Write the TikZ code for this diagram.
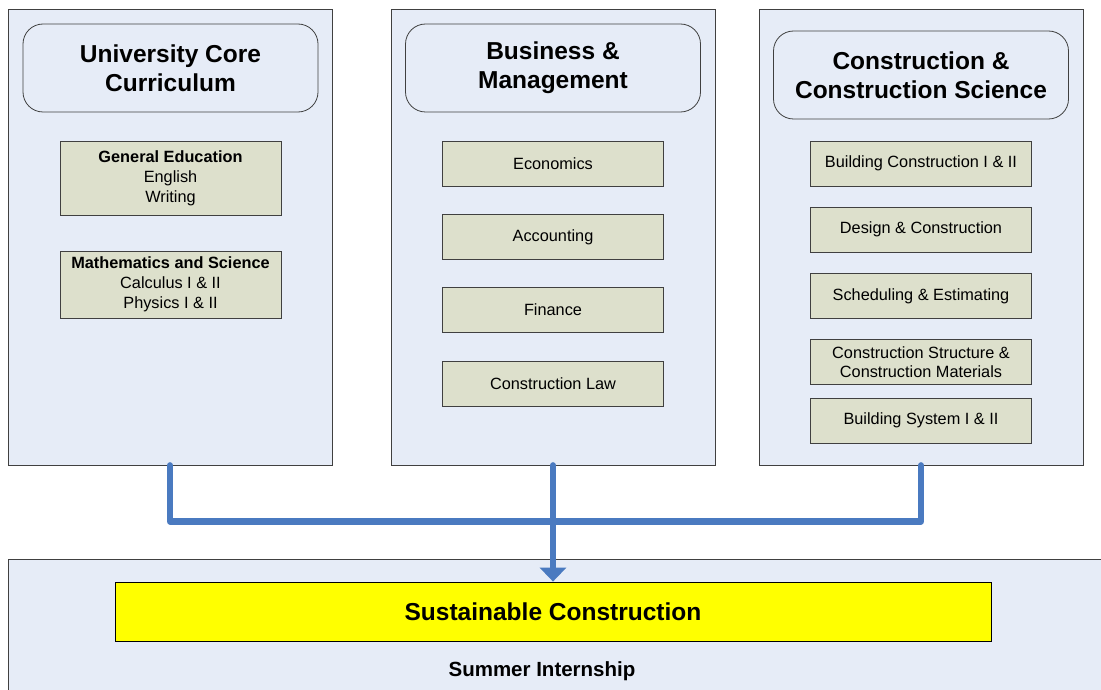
\documentclass[tikz,border=0pt]{standalone}
\usepackage{fontspec}
\setmainfont{Liberation Sans}
\usetikzlibrary{arrows.meta}
\definecolor{panelfill}{HTML}{E6ECF7}
\definecolor{itemfill}{HTML}{DDE0CC}
\definecolor{linkblue}{HTML}{4A7AC0}
\definecolor{edgegray}{HTML}{404040}
\definecolor{focusyellow}{HTML}{FFFF00}
\tikzset{
  panel/.style={draw=edgegray, line width=0.8pt, fill=panelfill, inner sep=0pt},
  headbox/.style={draw=edgegray, line width=0.8pt, rounded corners=20pt, fill=panelfill,
    minimum width=295pt, minimum height=88pt, align=center, font=\bfseries\fontsize{24.5}{29}\selectfont},
  itembox/.style={draw=edgegray, line width=0.8pt, fill=itemfill, align=center, inner sep=2pt,
    minimum width=221pt, font=\fontsize{16.3}{20}\selectfont},
  link/.style={draw=linkblue, line width=6.5pt, line cap=round, line join=round},
}
\begin{document}
\begin{tikzpicture}[x=1pt,y=-1pt]
\useasboundingbox (0,0) rectangle (1101,690);
\clip (0,0) rectangle (1101,690);

% three course columns
\node[panel, minimum width=324pt, minimum height=456pt] (core) at (170,237) {};
\node[panel, minimum width=324pt, minimum height=456pt] (bus) at (553,237) {};
\node[panel, minimum width=324pt, minimum height=456pt] (con) at (921,237) {};

% internship band along the bottom
\node[panel, minimum width=1120pt, minimum height=150pt, anchor=north west] (intern) at (8,559) {};

% column headings
\node[headbox] (coreh) at (170.5,68) {University Core\\Curriculum};
\node[headbox] (bush) at (553,68) {Business \&\\Management};
\node[headbox] (conh) at (921,75) {Construction \&\\Construction Science};

% university core items
\node[itembox, minimum height=74pt] (gened) at (170.5,178) {\textbf{General Education}\\English\\Writing};
\node[itembox, minimum height=67pt] (math) at (170.5,284.5) {\textbf{Mathematics and Science}\\Calculus I \& II\\Physics I \& II};

% business items
\node[itembox, minimum height=45pt] (econ) at (553,163.5) {Economics};
\node[itembox, minimum height=45pt] (acct) at (553,237) {Accounting};
\node[itembox, minimum height=45pt] (fin) at (553,310) {Finance};
\node[itembox, minimum height=45pt] (law) at (553,383.5) {Construction Law};

% construction items
\node[itembox, minimum height=45pt] (bc) at (921,163.5) {Building Construction I \& II};
\node[itembox, minimum height=45pt] (dc) at (921,229.5) {Design \& Construction};
\node[itembox, minimum height=45pt] (se) at (921,296) {Scheduling \& Estimating};
\node[itembox, minimum height=45pt, font=\fontsize{16.3}{19}\selectfont] (cs) at (921,362) {Construction Structure \&\\Construction Materials};
\node[itembox, minimum height=45pt] (bs) at (921,420.5) {Building System I \& II};

% focus box and internship label
\node[draw=black, line width=0.8pt, fill=focusyellow, minimum width=876pt, minimum height=59pt,
  font=\bfseries\fontsize{24.5}{29}\selectfont] (sust) at (553,611.5) {Sustainable Construction};
\node[font=\bfseries\fontsize{20.5}{24}\selectfont] (summer) at (542,671) {Summer Internship};

% connectors
\path (core.south) ++(0,56) coordinate (jl);
\draw[link] (core.south) -- (jl) -| (con.south);
\draw[link, -{Triangle[width=26pt,length=14pt]}] (bus.south) -- (sust.north);
\end{tikzpicture}
\end{document}
